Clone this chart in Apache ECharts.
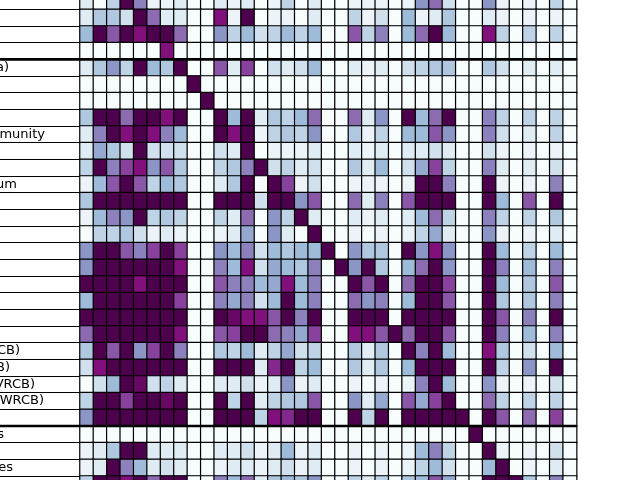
<!DOCTYPE html>
<html>
<head>
<meta charset="utf-8">
<script src="https://cdn.jsdelivr.net/npm/echarts@6/dist/echarts.min.js"></script>
<style>
html,body{margin:0;padding:0;background:#fff;}
#chart{width:640px;height:480px;}
</style>
</head>
<body>
<div id="chart"></div>
<script>
// ---- DATA ----
// column categories (labels not visible in the crop)
const columns = Array.from({length: 37}, (_, i) => 'C' + (i + 1));
// visible tails of row labels (left part is cropped off)
const rowLabels = ['', '', '', '', 'a)', '', '', '', 'munity', '', '', 'um', '', '', '', '', '', '', '', '', '',
  'CB)', 'B)', 'VRCB)', 'WRCB)', '', 's', '', 'es', ''];
// group separators (row index where a new group starts)
const groupBreaks = [4, 26];
// intensity levels 0..8 (BuPu scale), one array per row
const r00 = [1,0,2,8,4.5,0.5,0.5,1,0,0,1,0.5,1,0,0.5,2,0,1, 0,0,0.5,0.5,0.5,0,0.5,4,5,1.5,0,0,4,0.5,0,0.5,0,2,0];
const r01 = [1,2.5,2.5,1.5,8,5,1,1,0,0,7,0.5,8,0,0.5,0.5,0,1, 0,0,2,0.5,1.5,0,3,0.5,1,2.5,0,0,1,0.5,0,0.5,0,0.5,0];
const r02 = [3,8,5.5,8,7,8,8,5,0,0,4,2,3,1.5,2,3,2,3, 0,0,5.5,2,4.5,0,3,5,8,3,0,0,7,2,0,2,0,2,0];
const r03 = [0,0,0,0,0,0,7,0,0,0,0,0,0,0,0,0,0,0, 0,0,0,0,0,0,0,0,0,0,0,0,0,0,0,0,0,0,0];
const r04 = [1,2.5,4,2,8,3,2.5,8,0,0,5.5,1,6,0,1.5,1,1.5,3, 0,0,1,0.5,1,0,1.5,2,2.5,2.5,0,0,2.5,1.5,0,1,0,1,0];
const r05 = [0,0,0,0,0,0,0,0,8,0,0,0,0,0,0,0,0,0, 0,0,0,0,0,0,0,0,0,0,0,0,0,0,0,0,0,0,0];
const r06 = [0,0,0,0,0,0,0,0,0,8,0,0,0,0,0,0,0,0, 0,0,0,0,0,0,0,0,0,0,0,0,0,0,0,0,0,0,0];
const r07 = [2.5,8,8,5,8,8,7,8,0,0,8,3,8,1,2.5,2,3,5, 0,0,5,1,4,0,8,3,5,8,0,0,4.5,2,0,2,0,2,0];
const r08 = [1,4.5,8,7,8,7,4.5,3,0,0,8,7,8,0.5,2,2.5,2,4, 0,0,2.5,0.5,2,0,3,3,5.5,4,0,0,4.5,1.5,0,1,0,2,0];
const r09 = [1,3.5,2.5,1.5,8,1.5,1.5,1.5,0,0,1.5,1,8,0,0.5,0.5,0.5,1, 0,0,1,0.5,1,0,1,1,1.5,1,0,0,1.5,0.5,0,0.5,0,0.5,0];
const r10 = [2,8,4.5,6,7,4,5.5,2.5,0,0,2,2.5,4.5,8,1.5,2,1,1.5, 0,0,2.5,1,3,0,1.5,3.5,6,2,0,0,4.5,1,0,1,0,1.5,0];
const r11 = [0.5,3,5.5,8,5.5,2,3,2.5,0,0,1,2.5,8,0,8,6,0.5,1.5, 0,0,0.5,0.5,0.5,0,0.5,8,8,4.5,0,0,8,0.5,0,0.5,0,4.5,0];
const r12 = [2.5,8,8,8,8,8,8,8,0,0,8,8,8,1.5,8,8,4,5.5, 0,0,5,1,4.5,0,5.5,8,8,8,0,0,8,3,0,5.5,0,8,0];
const r13 = [0.5,3,4.5,4,8,2,2.5,2,0,0,2,1,5,0,4,2,8,1, 0,0,1,0.5,1,0,1,3,5,2,0,0,4.5,2,0,2,0,2.5,0];
const r14 = [0,2,2,2.5,1.5,0.5,1,0.5,0,0,0.5,1,3.5,0,4,1,0,8, 0,0,0.5,0,0.5,0,0.5,2,3.5,1,0,0,4,0.5,0,0.5,0,1,0];
const r15 = [4,8,8,5.5,4.5,6,8,6,0,0,4,3,4.5,1.5,3,2.5,3,3, 8,0,4,2.5,2.5,0,8,4,7,4,0,0,8,3,0,2,0,3,0];
const r16 = [4,8,8,8,8,8,8,7,0,0,4.5,3,7,1.5,3.5,3,2.5,4.5, 0,8,4,8,2.5,0,3,5,8,4,0,0,8,4.5,0,3,0,4.5,0];
const r17 = [8,8,8,8,7,8,8,8,0,0,5.5,4.5,4.5,3,3.5,7,3,4.5, 0,0,8,5.5,8,0,5,8,8,6,0,0,8,3,0,2.5,0,5.5,0];
const r18 = [3,8,8,8,8,8,8,6,0,0,4.5,3.5,4.5,1.5,3,8,3,4.5, 0,0,5,4,4.5,0,3,8,8,5.5,0,0,8,2.5,0,2.5,0,4.5,0];
const r19 = [8,8,8,8,8,8,8,8,0,0,8,7.5,7,7,5.5,8,4.5,8, 0,0,8,8,8,0,8,8,8,8,0,0,8,5.5,0,4.5,0,8,0];
const r20 = [5,8,8,8,8,8,8,7,0,0,5.5,6,8,8,5,4.5,3.5,6, 0,0,7,7,5.5,8,5,8,8,5.5,0,0,8,4.5,0,3,0,4.5,0];
const r21 = [2.5,8,5.5,8,4,6,8,4.5,0,0,2.5,2,3,1,2,3.5,1.5,2, 0,0,2.5,1,2.5,0,8,4.5,8,3,0,0,7,2.5,0,1.5,0,3,0];
const r22 = [1.5,7,8,8,8,8,8,8,0,0,8,8,8,1,6.5,8,2,3, 0,0,2.5,1,2.5,0,3,8,8,8,0,0,8,2,0,4,0,8,0];
const r23 = [0,1.5,3,8,7.5,1.5,2,1,0,0,1,1,1.5,0.5,1,4,0.5,1, 0,0,0.5,0,0.5,0,0.5,4.5,8,3,0,0,4,0.5,0,0.5,0,1.5,0];
const r24 = [2,8,8,6,8,8,7.5,8,0,0,8,2,8,1,2,2.5,2.5,5.5, 0,0,4,1,3.5,0,5.5,3.5,6,8,0,0,5,2,0,2,0,2,0];
const r25 = [4,8,8,8,8,8,8,8,0,0,8,8,8,2,7,6.5,8,8, 0,0,8,2,8,0,8,8,8,8,8,0,8,5.5,0,5,0,6,0];
const r26 = [0,0,0,0,0,0,0,0,0,0,0,0,0,0,0,0,0,0, 0,0,0,0,0,0,0,0,0,0,0,8,0,0,0,0,0,0,0];
const r27 = [0.5,1,2.5,8,8,1,1,1,0,0,1,1,1.5,0.5,1,3,0.5,1, 0,0,0.5,0,0.5,0,0.5,3,4.5,2,0,0,8,0.5,0,0.5,0,1.5,0];
const r28 = [0.5,1,8,4.5,3,1,1.5,1,0,0,0.5,1,1,0.5,1,1.5,0.5,1, 0,0,0.5,0,0.5,0,0.5,2,3,1.5,0,0,3,8,0,0.5,0,1,0];
const r29 = [2,8,8,7,8,5,8,8,0,0,4.5,3,5,1,2.5,3,2.5,4, 0,0,2,1,2,0,2.5,3,5.5,3.5,0,0,8,8,8,2.5,0,4.5,0];
const values = [r00,r01,r02,r03,r04,r05,r06,r07,r08,r09,r10,r11,r12,r13,r14,r15,r16,r17,r18,r19,
  r20,r21,r22,r23,r24,r25,r26,r27,r28,r29];

// ---- LAYOUT / STYLE ----
const GRID_LEFT = 80, GRID_WIDTH = 496.6, GRID_TOP = -7.33, GRID_HEIGHT = 500;
const labelEndX = {4: 9, 8: 45, 11: 17, 21: 20, 22: 10, 23: 35, 24: 44, 26: 4, 28: 13};
const BuPu = ['#f7fcfd','#e0ecf4','#bfd3e6','#9ebcda','#8c96c6','#8c6bb1','#88419d','#810f7c','#4d004b'];

const rowNames = rowLabels.map((l, i) => 'R' + i);
const heatData = [];
values.forEach((row, r) => row.forEach((v, c) => heatData.push([c, r, v])));

const labelData = rowLabels.map((t, i) => [i, t]).filter(d => d[1] !== '');

const chart = echarts.init(document.getElementById('chart'), null, {renderer: 'canvas'});
chart.setOption({
  animation: false,
  backgroundColor: '#ffffff',
  grid: [
    {left: GRID_LEFT, top: GRID_TOP, width: GRID_WIDTH, height: GRID_HEIGHT, containLabel: false, outerBoundsMode: 'none'},
    {left: 0, top: GRID_TOP, width: GRID_LEFT + GRID_WIDTH, height: GRID_HEIGHT, containLabel: false, outerBoundsMode: 'none'}
  ],
  xAxis: [
    {type: 'category', gridIndex: 0, data: columns, axisLine: {show: false}, axisTick: {show: false}, axisLabel: {show: false}, splitLine: {show: false}},
    {type: 'value', gridIndex: 1, min: 0, max: GRID_LEFT + GRID_WIDTH, show: false}
  ],
  yAxis: [
    {type: 'category', gridIndex: 0, data: rowNames, inverse: true, axisLine: {show: false}, axisTick: {show: false}, axisLabel: {show: false}, splitLine: {show: false}},
    {type: 'value', gridIndex: 1, min: 0, max: rowLabels.length, interval: 1, inverse: true,
      axisLine: {show: false}, axisTick: {show: false}, axisLabel: {show: false},
      splitLine: {show: true, lineStyle: {color: '#000', width: 1.2}}}
  ],
  visualMap: {
    type: 'continuous', show: false, min: 0, max: 8, dimension: 2, seriesIndex: 0,
    inRange: {color: BuPu}
  },
  series: [
    {
      type: 'heatmap', xAxisIndex: 0, yAxisIndex: 0, data: heatData,
      itemStyle: {borderColor: '#000', borderWidth: 1.2},
      emphasis: {disabled: true}, progressive: 0, z: 2
    },
    {
      type: 'custom', xAxisIndex: 1, yAxisIndex: 1, data: groupBreaks.map(b => [0, b]), z: 5, silent: true,
      renderItem: function (params, api) {
        const p1 = api.coord([0, api.value(1)]);
        const p2 = api.coord([GRID_LEFT + GRID_WIDTH, api.value(1)]);
        return {type: 'line', shape: {x1: p1[0], y1: p1[1], x2: p2[0], y2: p2[1]},
          style: {stroke: '#000', lineWidth: 2.6}};
      }
    },
    {
      type: 'custom', xAxisIndex: 1, yAxisIndex: 1, data: labelData, z: 6, silent: true,
      renderItem: function (params, api) {
        const idx = api.value(0);
        const item = labelData[params.dataIndex];
        const p = api.coord([labelEndX[idx], idx + 0.5]);
        return {type: 'text', x: p[0], y: p[1],
          style: {text: item[1], align: 'right', verticalAlign: 'middle', fill: '#000',
            font: '13px "DejaVu Sans"'}};
      }
    }
  ]
});
</script>
</body>
</html>
